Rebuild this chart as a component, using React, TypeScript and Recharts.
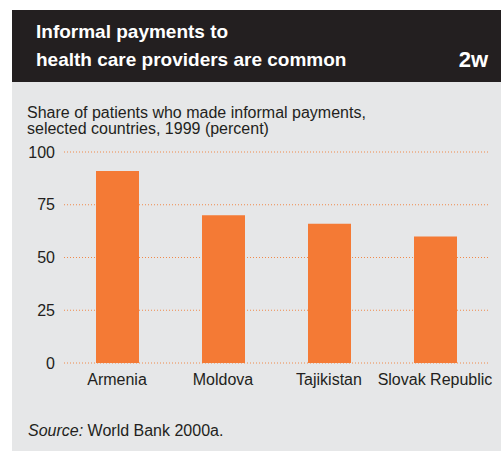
import React from 'react';
import { BarChart, Bar, XAxis, YAxis, CartesianGrid } from 'recharts';

const countries: string[] = ['Armenia', 'Moldova', 'Tajikistan', 'Slovak Republic'];
const shares: number[] = [91, 70, 66, 60];
const yTicks: number[] = [0, 25, 50, 75, 100];

const data = countries.map((name, i) => ({ name, share: shares[i] }));

const font = '"Liberation Sans", Arial, sans-serif';

const App: React.FC = () => {
  return (
    <div style={{ position: 'absolute', left: 0, top: 0, width: 501, height: 451, background: '#fff', fontFamily: font }}>
      <div style={{ position: 'absolute', left: 12, top: 10, width: 489, height: 72, background: '#231f20', color: '#fff' }}>
        <div style={{ position: 'absolute', left: 24, top: 8, fontSize: 19, fontWeight: 'bold', lineHeight: '28px' }}>
          Informal payments to<br />health care providers are common
        </div>
        <div style={{ position: 'absolute', right: 13, top: 36, fontSize: 22, fontWeight: 'bold', lineHeight: '28px' }}>2w</div>
      </div>
      <div style={{ position: 'absolute', left: 12, top: 82, width: 489, height: 369, background: '#e6e7e8' }} />
      <div style={{ position: 'absolute', left: 27, top: 105, fontSize: 16, color: '#231f20', lineHeight: '16px' }}>
        Share of patients who made informal payments,<br />selected countries, 1999 (percent)
      </div>
      <div style={{ position: 'absolute', left: 28, top: 422, fontSize: 16, color: '#231f20', lineHeight: '18px' }}>
        <i>Source:</i> World Bank 2000a.
      </div>
      <div style={{ position: 'absolute', left: 0, top: 0 }}>
        <BarChart width={501} height={451} data={data} margin={{ top: 152, right: 13, left: 12, bottom: 58 }}>
          <CartesianGrid vertical={false} stroke="#f08a4b" strokeDasharray="1 2" />
          <XAxis dataKey="name" axisLine={false} tickLine={false} height={30} tickMargin={5}
            tick={{ fill: '#231f20', fontSize: 16, fontFamily: font }} interval={0} />
          <YAxis domain={[0, 100]} ticks={yTicks} axisLine={false} tickLine={false} width={52} tickMargin={3}
            tick={{ fill: '#231f20', fontSize: 16, fontFamily: font }} />
          <Bar dataKey="share" fill="#f47a35" barSize={43} isAnimationActive={false} />
        </BarChart>
      </div>
    </div>
  );
};

export default App;
